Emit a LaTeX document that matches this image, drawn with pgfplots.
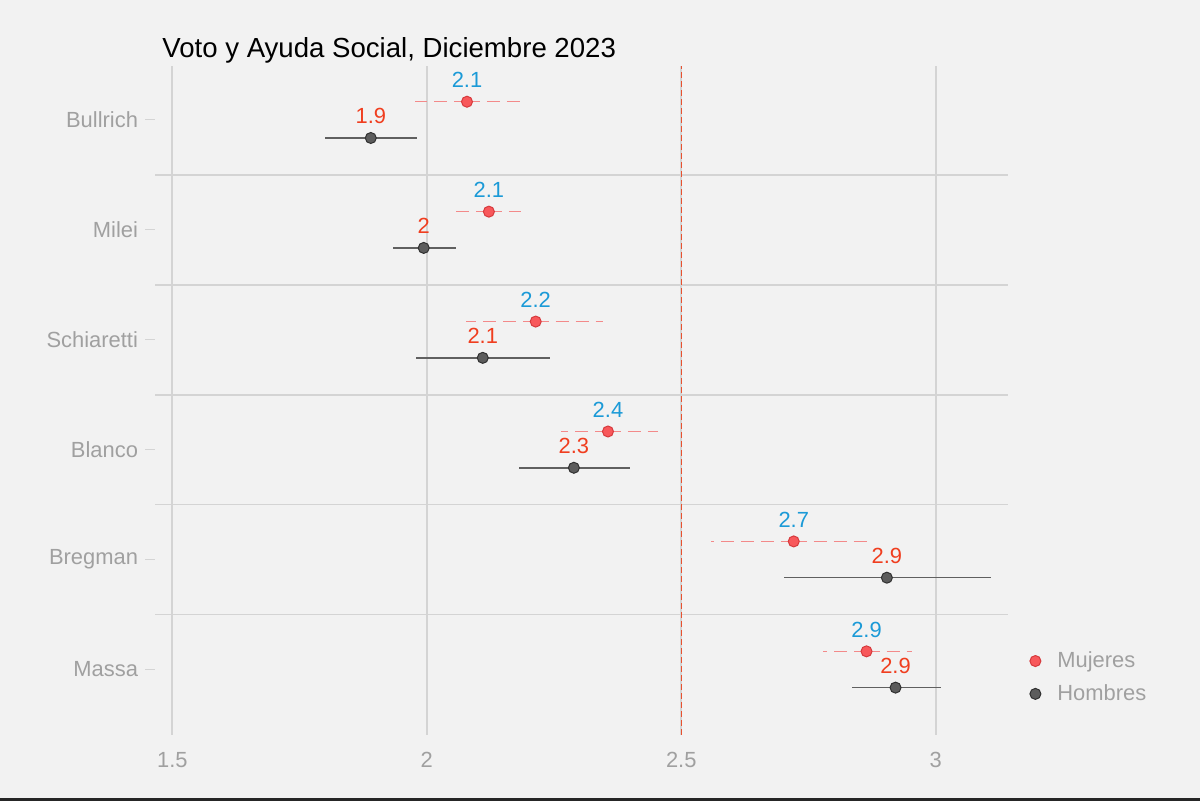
\documentclass[border=0pt]{standalone}
\usepackage{pgfplots}
\pgfplotsset{compat=1.18}
\usepackage{fontspec}
\setmainfont{Liberation Sans}

\definecolor{panelbg}{HTML}{F2F2F2}
\definecolor{gridc}{HTML}{D4D4D4}
\definecolor{txtgray}{HTML}{A0A0A0}
\definecolor{lblblue}{HTML}{1B9AD7}
\definecolor{lblred}{HTML}{F03E1F}
\definecolor{redline}{HTML}{E8512F}
\definecolor{mujfill}{HTML}{F8585B}
\definecolor{mujdraw}{HTML}{D63A3D}
\definecolor{mujbar}{HTML}{F38A8A}
\definecolor{homfill}{HTML}{5C5C5C}
\definecolor{homdraw}{HTML}{303030}
\definecolor{hombar}{HTML}{606060}

\tikzset{lbl/.style={anchor=base, yshift=7bp, inner sep=0pt}}

\begin{document}
\begin{tikzpicture}
\fill[panelbg] (0,0) rectangle (600bp,400.5bp);
\fill[black!85] (0,0) rectangle (600bp,1.6bp);
\node[anchor=base west, inner sep=0pt, font=\fontsize{13.85}{16}\selectfont] at (81bp,371.5bp) {Voto y Ayuda Social, Diciembre 2023};
\begin{axis}[
    at={(77.5bp,33bp)}, anchor=south west,
    scale only axis, width=426.5bp, height=334.5bp,
    xmin=1.466, xmax=3.142, ymin=0.404, ymax=6.49,
    axis line style={draw=none},
    font=\fontsize{11}{13}\selectfont,
    /pgf/number format/assume math mode=true,
    xtick={1.5,2,2.5,3},
    xticklabels={1.5,2,2.5,3},
    xtick style={draw=none},
    xmajorgrids,
    % categories: Massa=1 ... Bullrich=6
    ytick={1,2,3,4,5,6},
    yticklabels={Massa,Bregman,Blanco,Schiaretti,Milei,Bullrich},
    ytick pos=left, tick align=outside, major tick length=5bp,
    ytick style={draw=gridc, line width=0.6bp},
    extra y ticks={1.5,2.5,3.5,4.5,5.5},
    extra y tick labels={},
    extra y tick style={ymajorgrids=true, major tick length=0pt},
    grid style={draw=gridc, line width=0.9bp},
    ticklabel style={text=txtgray},
    legend style={at={(1,0.086)}, anchor=west, draw=none, fill=none,
        inner sep=0pt, row sep=3bp,
        nodes={inner xsep=0pt, inner ysep=2pt},
        font=\fontsize{11}{13}\selectfont},
    legend cell align=left,
    legend image code/.code={\path[draw=none] (0bp,0bp) -- (24.5bp,0bp);
        \draw[#1] plot coordinates {(13.5bp,0bp)};},
]
\addplot[draw=redline, line width=0.75bp, dash pattern=on 3bp off 1.5bp, forget plot]
    coordinates {(2.5,0.404) (2.5,6.49)};

% intervals, Mujeres at category+0.165, Hombres at category-0.165
\addplot[only marks, mark=none, forget plot,
    error bars/.cd, x dir=both, x explicit, error mark=none,
    error bar style={draw=mujbar, line width=0.75bp, dash pattern=on 6.5bp off 3.5bp}]
    coordinates {
    (2.079,6.165) += (0.106,0) -= (0.103,0)
    (2.122,5.165) += (0.063,0) -= (0.065,0)
    (2.214,4.165) += (0.132,0) -= (0.137,0)
    (2.356,3.165) += (0.098,0) -= (0.093,0)
    (2.721,2.165) += (0.157,0) -= (0.163,0)
    (2.864,1.165) += (0.089,0) -= (0.086,0)
    };
\addplot[only marks, mark=none, forget plot,
    error bars/.cd, x dir=both, x explicit, error mark=none,
    error bar style={draw=hombar, line width=0.75bp, solid}]
    coordinates {
    (1.890,5.835) += (0.090,0) -= (0.090,0)
    (1.994,4.835) += (0.063,0) -= (0.061,0)
    (2.110,3.835) += (0.132,0) -= (0.132,0)
    (2.289,2.835) += (0.110,0) -= (0.108,0)
    (2.904,1.835) += (0.204,0) -= (0.203,0)
    (2.921,0.835) += (0.089,0) -= (0.086,0)
    };

% points
\addplot[only marks, mark=*, mark size=2.75bp,
    mark options={fill=mujfill, draw=mujdraw, line width=0.5bp, solid}]
    coordinates {
    (2.079,6.165) (2.122,5.165) (2.214,4.165)
    (2.356,3.165) (2.721,2.165) (2.864,1.165)
    };
\addlegendentry{\textcolor{txtgray}{Mujeres}}

\addplot[only marks, mark=*, mark size=2.75bp,
    mark options={fill=homfill, draw=homdraw, line width=0.5bp}]
    coordinates {
    (1.890,5.835) (1.994,4.835) (2.110,3.835)
    (2.289,2.835) (2.904,1.835) (2.921,0.835)
    };
\addlegendentry{\textcolor{txtgray}{Hombres}}

% value labels
\node[lbl, text=lblblue] at (axis cs:2.079,6.165) {2.1};
\node[lbl, text=lblblue] at (axis cs:2.122,5.165) {2.1};
\node[lbl, text=lblblue] at (axis cs:2.214,4.165) {2.2};
\node[lbl, text=lblblue] at (axis cs:2.356,3.165) {2.4};
\node[lbl, text=lblblue] at (axis cs:2.721,2.165) {2.7};
\node[lbl, text=lblblue] at (axis cs:2.864,1.165) {2.9};
\node[lbl, text=lblred] at (axis cs:1.890,5.835) {1.9};
\node[lbl, text=lblred] at (axis cs:1.994,4.835) {2};
\node[lbl, text=lblred] at (axis cs:2.110,3.835) {2.1};
\node[lbl, text=lblred] at (axis cs:2.289,2.835) {2.3};
\node[lbl, text=lblred] at (axis cs:2.904,1.835) {2.9};
\node[lbl, text=lblred] at (axis cs:2.921,0.835) {2.9};
\end{axis}
\end{tikzpicture}
\end{document}
